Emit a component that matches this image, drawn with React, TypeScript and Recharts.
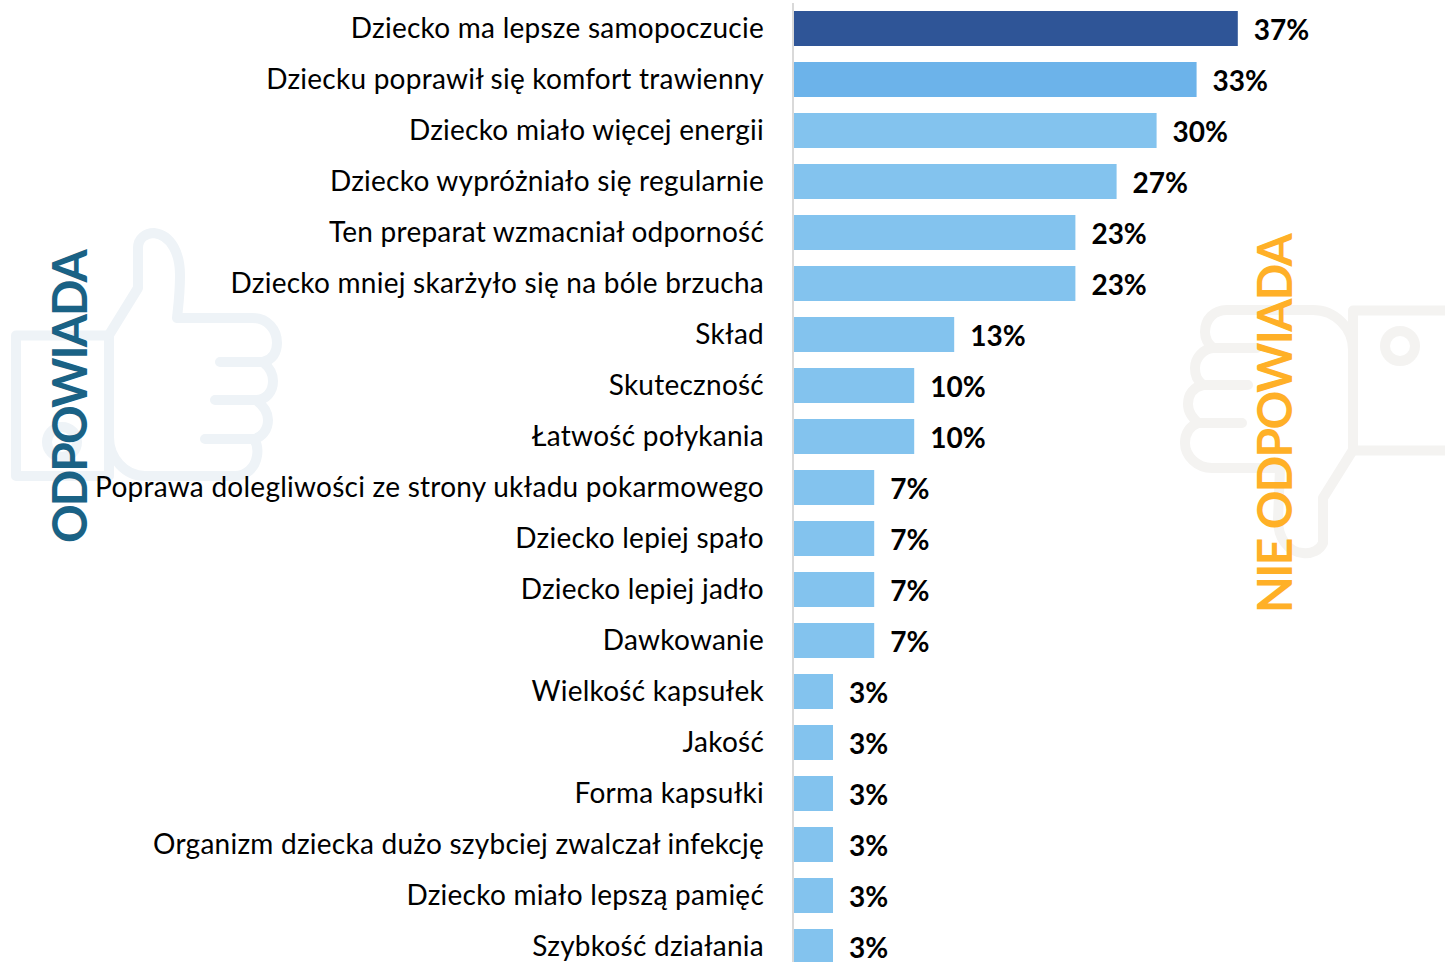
import { BarChart, Bar, XAxis, YAxis, Cell, LabelList } from "recharts";

const categories = [
  "Dziecko ma lepsze samopoczucie",
  "Dziecku poprawił się komfort trawienny",
  "Dziecko miało więcej energii",
  "Dziecko wypróżniało się regularnie",
  "Ten preparat wzmacniał odporność",
  "Dziecko mniej skarżyło się na bóle brzucha",
  "Skład",
  "Skuteczność",
  "Łatwość połykania",
  "Poprawa dolegliwości ze strony układu pokarmowego",
  "Dziecko lepiej spało",
  "Dziecko lepiej jadło",
  "Dawkowanie",
  "Wielkość kapsułek",
  "Jakość",
  "Forma kapsułki",
  "Organizm dziecka dużo szybciej zwalczał infekcję",
  "Dziecko miało lepszą pamięć",
  "Szybkość działania",
];

const values = [36.7, 33.3, 30, 26.7, 23.3, 23.3, 13.3, 10, 10, 6.7, 6.7, 6.7, 6.7, 3.3, 3.3, 3.3, 3.3, 3.3, 3.3];

const barColors = ["#2f5597", "#6cb3ea"];
const defaultBarColor = "#83c3ee";

const chartData = categories.map((name, i) => ({ name, value: values[i] }));

const fontFamily = "Lato, 'Open Sans', sans-serif";

// ikony w tle
const ThumbUp = () => (
  <g fill="none" stroke="#eef3f7" strokeWidth={10} strokeLinejoin="round" strokeLinecap="round">
    <rect x={16} y={335.5} width={93} height={140.5} />
    <circle cx={62} cy={442} r={15} />
    <path d="M109 335 L138 288 L138 248 C138 238 146 233 154 233 C172 235 180 255 180 275 C180 295 178 308 177 318 L252 318 C268 318 277 330 277 343 C277 353 272 360 263 362 L220 362 M263 362 C270 368 273 373 273 381 C273 392 266 400 256 400 L215 400 M256 400 C264 406 268 412 268 420 C268 430 262 437 254 439 L205 439 M254 439 C258 445 258 450 257 456 C255 468 246 476 235 476 L145 476 C125 476 109 458 109 437" />
  </g>
);

const ThumbDown = () => (
  <g fill="none" stroke="#f4f3f1" strokeWidth={10} strokeLinejoin="round" strokeLinecap="round">
    <rect x={1353} y={310.5} width={110} height={140} />
    <circle cx={1400} cy={346} r={15} />
    <path d="M1353 450 L1323 498 L1323 543 C1320 550 1312 554 1303 553 C1288 552 1278 538 1278 520 L1280 468 L1212 468 C1197 468 1185 456 1185 443 C1185 433 1190 426 1198 423 L1242 423 M1198 423 C1192 417 1188 412 1188 404 C1188 394 1194 387 1203 385 L1248 385 M1203 385 C1197 380 1195 376 1195 368 C1195 358 1203 349 1213 348 L1257 348 M1213 348 C1207 343 1205 338 1205 332 C1205 319 1214 310 1227 310 L1313 310 C1335 310 1353 328 1353 350 L1353 450" />
  </g>
);

export default function App() {
  return (
    <div style={{ position: "absolute", left: 0, top: 0, width: 1445, height: 962, overflow: "hidden", background: "#fff" }}>
      <svg width={1445} height={962} style={{ position: "absolute", left: 0, top: 0 }}>
        <ThumbUp />
        <ThumbDown />
      </svg>

      <div style={{ position: "absolute", left: 0, top: 0 }}>
        <BarChart
          width={1445}
          height={972}
          data={chartData}
          layout="vertical"
          barSize={35}
          margin={{ top: 3, right: 46, bottom: 0, left: 0 }}
        >
          <XAxis type="number" domain={[0, 50]} hide />
          <YAxis
            type="category"
            dataKey="name"
            width={793}
            interval={0}
            tickLine={false}
            tickSize={0}
            tickMargin={29}
            axisLine={{ stroke: "#d9d9d9", strokeWidth: 2 }}
            tick={{ fill: "#000", fontSize: 28, fontFamily, letterSpacing: 0.25 }}
          />
          <Bar dataKey="value" isAnimationActive={false}>
            {chartData.map((_, i) => (
              <Cell key={i} fill={barColors[i] ?? defaultBarColor} />
            ))}
            <LabelList
              dataKey="value"
              position="right"
              offset={16}
              dy={1.5}
              formatter={(v: number) => `${Math.round(v)}%`}
              style={{ fill: "#000", fontSize: 28, fontWeight: 700, fontFamily }}
            />
          </Bar>
        </BarChart>
      </div>

      {/* napisy boczne */}
      <svg width={1445} height={962} style={{ position: "absolute", left: 0, top: 0, pointerEvents: "none" }}>
        <text
          transform="translate(87 543) rotate(-90)"
          fill="#1a6285"
          fontSize={48}
          fontWeight={700}
          letterSpacing={-2}
          fontFamily={fontFamily}
        >
          ODPOWIADA
        </text>
        <text
          transform="translate(1292 613) rotate(-90)"
          fill="#ffb027"
          fontSize={48}
          fontWeight={700}
          letterSpacing={-1.7}
          fontFamily={fontFamily}
        >
          NIE ODPOWIADA
        </text>
      </svg>
    </div>
  );
}
